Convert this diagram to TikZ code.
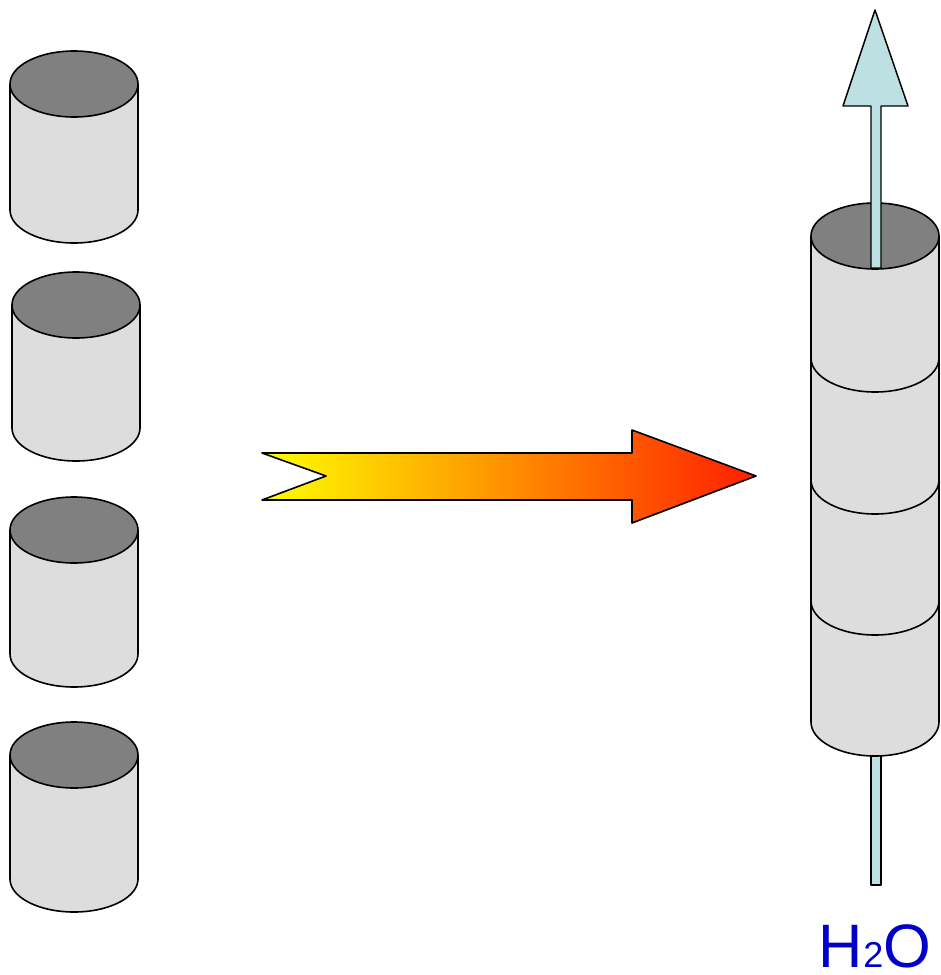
\documentclass[tikz,border=0pt]{standalone}
\usepackage{fontspec}
\setmainfont{Liberation Sans}
\usepackage{tikz}
\usetikzlibrary{positioning}
\definecolor{drumside}{HTML}{DDDDDD}
\definecolor{drumtop}{HTML}{808080}
\definecolor{pipe}{HTML}{BDE0E3}
\definecolor{h2oblue}{RGB}{0,0,200}
\definecolor{flamehi}{RGB}{255,255,0}
\definecolor{flamemid}{RGB}{255,215,0}
\definecolor{flamelo}{RGB}{255,30,0}

\tikzset{
  outline/.style={draw=black,line width=1.2pt,line join=round},
  sidewall/.style={outline,fill=drumside},
  lid/.style={outline,fill=drumtop},
  tube/.style={outline,fill=pipe,line width=1.1pt},
  heatarrow/.style={outline,left color=flamehi,middle color=flamemid,right color=flamelo},
}

\begin{document}
\begin{tikzpicture}[x=0.75pt,y=-0.75pt]
  \useasboundingbox (0,0) rectangle (940,975);
  % loose drums on the left
  \foreach \cx/\yt/\yb in {74/84/210,76/305/428,74/530/654,74/755/879}{
    \draw[sidewall] (\cx-64,\yt) -- (\cx-64,\yb)
      arc[start angle=180,end angle=0,x radius=64,y radius=33] -- (\cx+64,\yt);
    \draw[lid] (\cx,\yt) ellipse [x radius=64,y radius=33];
  }
  % heating arrow
  \draw[heatarrow] (262,453) -- (632,453) -- (632,430) -- (756,476)
    -- (632,523) -- (632,500) -- (262,500) -- (326,476) -- cycle;
  % outlet tube under the stack
  \draw[tube] (871,740) rectangle (881,885);
  % stacked drums
  \draw[sidewall] (811,236) -- (811,722)
    arc[start angle=180,end angle=0,x radius=64,y radius=34] -- (939,236);
  \foreach \y in {358,480,601}
    \draw[outline] (811,\y) arc[start angle=180,end angle=0,x radius=64,y radius=34];
  \draw[lid] (875,236) ellipse [x radius=64,y radius=33];
  % rising arrow
  \draw[tube] (871,268) -- (871,106) -- (843,106) -- (875,10) -- (908,106)
    -- (881,106) -- (881,268) -- cycle;
  \node[text=h2oblue,font=\fontsize{46}{46}\selectfont,anchor=base,inner sep=0pt,
    text depth=0pt] (water) at (875,967) {H{\fontsize{27}{27}\selectfont 2}O};
\end{tikzpicture}
\end{document}
